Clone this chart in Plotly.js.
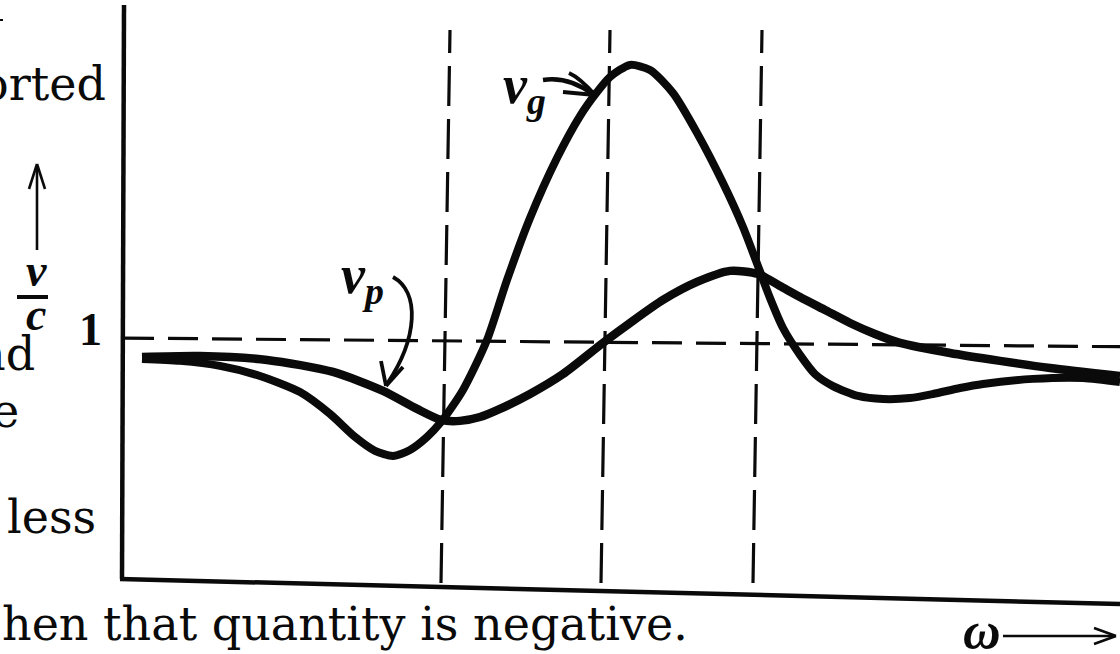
<!DOCTYPE html>
<html>
<head>
<meta charset="utf-8">
<script src="https://cdn.plot.ly/plotly-3.0.1.min.js"></script>
<style>
  html, body { margin: 0; padding: 0; background: #fff; }
  #chart { width: 1120px; height: 654px; }
</style>
</head>
<body>
<div id="chart"></div>
<script>
// Phase velocity v_p / c across the absorption band
const omegaPhase = [0.22, 0.80, 1.47, 2.13, 2.63, 2.97, 3.21, 3.40, 3.60, 3.80, 4.10, 4.43, 4.83,
  5.10, 5.43, 5.77, 6.10, 6.38, 6.60, 6.80, 7.05, 7.30, 7.55, 7.80, 8.30, 8.80, 9.30, 10.0];
const phaseVelocity = [0.929, 0.933, 0.917, 0.867, 0.788, 0.713, 0.667, 0.663, 0.679, 0.713, 0.775, 0.858, 0.988,
  1.071, 1.167, 1.242, 1.288, 1.275, 1.225, 1.179, 1.125, 1.071, 1.025, 0.988, 0.946, 0.913, 0.883, 0.850];

// Group velocity v_g / c
const omegaGroup = [0.22, 0.60, 1.00, 1.40, 1.80, 2.10, 2.35, 2.55, 2.73, 2.90, 3.07, 3.21, 3.43, 3.67, 3.87,
  4.10, 4.37, 4.60, 4.77, 4.90, 5.10, 5.30, 5.53, 5.77, 6.03, 6.23, 6.38, 6.50, 6.63,
  6.80, 6.95, 7.13, 7.38, 7.63, 7.90, 8.13, 8.40, 8.63, 9.13, 9.63, 10.0];
const groupVelocity = [0.921, 0.913, 0.892, 0.850, 0.783, 0.692, 0.596, 0.538, 0.517, 0.542, 0.596, 0.658, 0.792, 1.000, 1.250,
  1.508, 1.758, 1.933, 2.033, 2.096, 2.146, 2.125, 2.029, 1.863, 1.654, 1.471, 1.308, 1.175, 1.050,
  0.938, 0.858, 0.808, 0.767, 0.754, 0.758, 0.775, 0.800, 0.817, 0.838, 0.842, 0.825];

// Frequencies marked by the vertical guide lines
const omegaMarks = [3.21, 4.81, 6.33];
// Reference level v/c = 1
const unityLevel = 1;
const tickValues = [1];
const tickLabels = ['1'];

// Page geometry: the plot fills the page; ω = 0 sits at x = 120 px, v/c = 0 at y = 580 px
const X0 = 120, Y0 = 580, SX = 100, SY = 240, W = 1120, H = 654;
const fx = px => (px - X0) / SX;
const fy = py => (Y0 - py) / SY;

const INK = '#0a0a0a';
const SERIF = 'DejaVu Serif, serif';
const BOLDSERIF = 'Liberation Serif, Times New Roman, serif';

function seg(x0, y0, x1, y1, width, dash) {
  return { type: 'line', xref: 'x', yref: 'y', x0: fx(x0), y0: fy(y0), x1: fx(x1), y1: fy(y1),
    line: { color: INK, width: width, dash: dash || 'solid' }, layer: 'above' };
}
function pathShape(pts, width) {
  // pts: list of [cmd, px, py, ...] in page pixels -> data-space path string
  const d = pts.map(p => {
    const coords = [];
    for (let i = 1; i < p.length; i += 2) coords.push(fx(p[i]) + ',' + fy(p[i + 1]));
    return p[0] + coords.join(' ');
  }).join(' ');
  return { type: 'path', xref: 'x', yref: 'y', path: d, line: { color: INK, width: width }, layer: 'above' };
}

const traces = [
  { x: omegaPhase, y: phaseVelocity, mode: 'lines', name: 'v_p',
    line: { color: INK, width: 8.5, shape: 'spline', smoothing: 0.7 }, hoverinfo: 'skip' },
  { x: omegaGroup, y: groupVelocity, mode: 'lines', name: 'v_g',
    line: { color: INK, width: 8, shape: 'spline', smoothing: 0.7 }, hoverinfo: 'skip' }
];

const shapes = [
  // axes
  seg(122, 579, 124, 5, 4.5),
  seg(120, 579, 1120, 604, 4.5),
  // ω arrow and v/c arrow
  seg(1003, 636, 1115, 636, 2.4),
  seg(1094, 628, 1116, 636, 2.4),
  seg(1094, 644, 1116, 636, 2.4),
  seg(37, 250, 37, 166, 2.6),
  seg(29, 189, 37, 164, 2.6),
  seg(45, 189, 37, 164, 2.6),
  // fraction bar of v/c
  seg(17, 297, 48, 297, 4),
  // stroke of a cut-off letter at the page edge
  seg(0, 20, 3, 20, 2),
  // label pointers
  pathShape([['M', 393, 277], ['C', 420, 292, 418, 338, 387, 384]], 3.8),
  seg(381, 361, 386, 386, 3.8),
  seg(403, 367, 386, 386, 3.8),
  pathShape([['M', 543, 80], ['C', 562, 77, 578, 83, 594, 95]], 4.5),
  pathShape([['M', 569, 73], ['Q', 580, 78, 595, 95]], 4),
  seg(563, 92, 595, 95, 4)
];

// dashed reference level
shapes.push({ type: 'line', xref: 'x', yref: 'y', x0: fx(124), y0: unityLevel + 0.008, x1: fx(1120), y1: unityLevel - 0.028,
  line: { color: INK, width: 3.2, dash: '30px,14px' }, layer: 'below' });
// dashed vertical guides
omegaMarks.forEach(w => {
  shapes.push({ type: 'line', xref: 'x', yref: 'y', x0: w, y0: fy(583), x1: w + 0.09, y1: fy(30),
    line: { color: INK, width: 3.2, dash: '40px,13px' }, layer: 'below' });
});

function txt(text, px, py, size, opts) {
  return Object.assign({ text: text, x: fx(px), y: fy(py), xref: 'x', yref: 'y', showarrow: false,
    font: { family: SERIF, size: size, color: INK }, xanchor: 'right', yanchor: 'middle' }, opts || {});
}
function boldLabel(text, px, py, size) {
  return txt('<b><i>' + text + '</i></b>', px, py, size,
    { xanchor: 'center', font: { family: BOLDSERIF, size: size, color: INK } });
}

const annotations = [
  // running text of the page around the figure
  txt('orted', 108, 84, 46),
  txt('nd', 37, 354, 46),
  txt('e', 21, 411, 46),
  txt('less', 98, 517, 46),
  txt('hen that quantity is negative.', 690, 624, 46),
  // tick label of the reference level
  txt('<b>' + tickLabels[0] + '</b>', 104, Y0 - tickValues[0] * SY - 11, 46,
      { font: { family: BOLDSERIF, size: 46, color: INK } }),
  // axis labels
  boldLabel('v', 36, 270, 46),
  boldLabel('c', 36, 314, 46),
  boldLabel('ω', 982, 630, 52),
  // curve labels
  boldLabel('v<sub>p</sub>', 362, 278, 54),
  boldLabel('v<sub>g</sub>', 524, 88, 54)
];

const layout = {
  width: W, height: H,
  margin: { l: 0, r: 0, t: 0, b: 0, pad: 0 },
  paper_bgcolor: '#fff', plot_bgcolor: '#fff',
  showlegend: false,
  xaxis: { range: [fx(0), fx(W)], visible: false, fixedrange: true },
  yaxis: { range: [fy(H), fy(0)], visible: false, fixedrange: true },
  shapes: shapes,
  annotations: annotations
};

Plotly.newPlot('chart', traces, layout, { staticPlot: true, displayModeBar: false });
</script>
</body>
</html>
